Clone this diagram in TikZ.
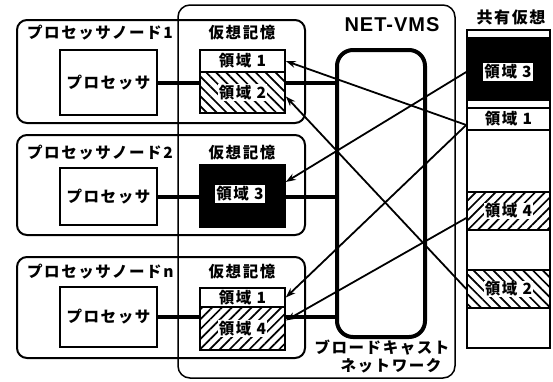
\documentclass[tikz,border=0pt]{standalone}
\usepackage{fontspec}
\newfontfamily\jp[LetterSpace=10]{Noto Sans CJK JP}
\newfontfamily\lat[LetterSpace=5]{Liberation Sans}
\usetikzlibrary{patterns.meta,arrows.meta,calc}
\begin{document}
\begin{tikzpicture}[x=1pt,y=-1pt,
  jt/.style={font=\jp\bfseries\fontsize{15.5}{17}\selectfont, inner sep=1pt},
  frame/.style={draw, line width=2pt, rounded corners=10pt, inner sep=0pt, minimum width=288pt},
  pbox/.style={jt, draw, line width=1.5pt, inner sep=0pt, minimum width=97pt},
  mem/.style={draw, line width=1.5pt, inner sep=0pt, minimum width=85pt},
  shr/.style={draw, line width=1.5pt, inner sep=0pt, minimum width=83pt},
  hatchA/.style={pattern={Lines[angle=-45,distance=7pt,line width=1.7pt]}},
  hatchB/.style={pattern={Lines[angle=45,distance=7pt,line width=1.7pt]}},
  lab/.style={jt, fill=white, inner sep=1pt},
  bus/.style={line width=4pt},
  arr/.style={line width=1.8pt, -{Stealth[length=10pt,width=7pt]}}
]
\useasboundingbox (0,0) rectangle (553,381);

% NET-VMS outer frame
\node[draw, line width=1.5pt, rounded corners=12pt, minimum width=277pt, minimum height=373pt] (vms) at (316.5,191.5) {};
\node[font=\lat\bfseries\fontsize{20}{22}\selectfont, inner sep=0pt] (vmst) at (392,25) {NET-VMS};

% processor nodes
\node[frame, minimum height=103pt] (n1) at (161,71.5) {};
\node[frame, minimum height=100pt] (n2) at (161,185) {};
\node[frame, minimum height=101pt] (nn) at (161,307.5) {};
\node[jt, anchor=west] (n1t) at (26,33) {プロセッサノード1};
\node[jt, anchor=west] (n2t) at (26,153) {プロセッサノード2};
\node[jt, anchor=west] (nnt) at (26,272) {プロセッサノードn};

\node[pbox, minimum height=65pt] (p1) at (108.5,82.5) {プロセッサ};
\node[pbox, minimum height=57pt] (p2) at (108.5,196.5) {プロセッサ};
\node[pbox, minimum height=60pt] (pn) at (108.5,317) {プロセッサ};

\node[jt] (v1) at (242,33) {仮想記憶};
\node[jt] (v2) at (242,153) {仮想記憶};
\node[jt] (vn) at (242,272) {仮想記憶};

% memories
\node[jt, mem, minimum height=22pt] (m1a) at (242.5,61) {領域 1};
\node[mem, minimum height=41pt, hatchA] (m1b) at (242.5,92.5) {};
\node[lab] (m1bl) at (m1b) {領域 2};
\node[mem, minimum height=62pt, fill=black] (m2) at (242.5,196) {};
\node[lab, inner sep=1.5pt] (m2l) at (240,194) {領域 3};
\node[jt, mem, minimum height=19pt] (mna) at (242.5,297.5) {領域 1};
\node[mem, minimum height=43pt, hatchB] (mnb) at (242.5,328.5) {};
\node[lab] (mnbl) at (mnb) {領域 4};

% broadcast network
\node[draw, line width=4pt, rounded corners=16pt, minimum width=88pt, minimum height=287pt] (net) at (381,193.5) {};
\node[jt] (bc1) at (382,348) {ブロードキャスト};
\node[jt] (bc2) at (391,366) {ネットワーク};

% bus connections
\draw[bus] (p1.east) -- (p1.east -| m1b.west);
\draw[bus] (p1.east -| m1b.east) -- (p1.east -| net.west);
\draw[bus] (p2.east) -- (p2.east -| m2.west);
\draw[bus] (p2.east -| m2.east) -- (p2.east -| net.west);
\draw[bus] (pn.east) -- (pn.east -| mnb.west);
\draw[bus] (pn.east -| mnb.east) -- (pn.east -| net.west);

% shared virtual memory
\node[font=\jp\bfseries\fontsize{16}{18}\selectfont, inner sep=0pt] (sht) at (511,17) {共有仮想};
\node[shr, minimum height=318pt] (sh) at (508.5,189) {};
\node[shr, minimum height=62pt, fill=black] (sh3) at (508.5,69) {};
\node[lab, inner sep=1.5pt] (sh3l) at (508,72) {領域 3};
\node[jt, shr, minimum height=22pt] (sh1) at (508.5,119) {領域 1};
\node[shr, minimum height=38pt, hatchB] (sh4) at (508.5,211) {};
\node[lab] (sh4l) at (sh4) {領域 4};
\node[shr, minimum height=38pt, hatchA] (sh2) at (508.5,289) {};
\node[lab] (sh2l) at (sh2) {領域 2};

% mapping arrows
\draw[arr] ([yshift=-6pt]sh1.west) -- (m1a.east);
\draw[arr] (sh2.west) -- ([yshift=-4pt]m1b.east);
\draw[arr] ([yshift=-3pt]sh3.west) -- ([yshift=14pt]m2.east);
\draw[arr] ([yshift=-6pt]sh1.west) -- (mna.east);
\draw[arr] ([yshift=-7pt]sh4.west) -- ([yshift=8pt]mnb.east);
\end{tikzpicture}
\end{document}
